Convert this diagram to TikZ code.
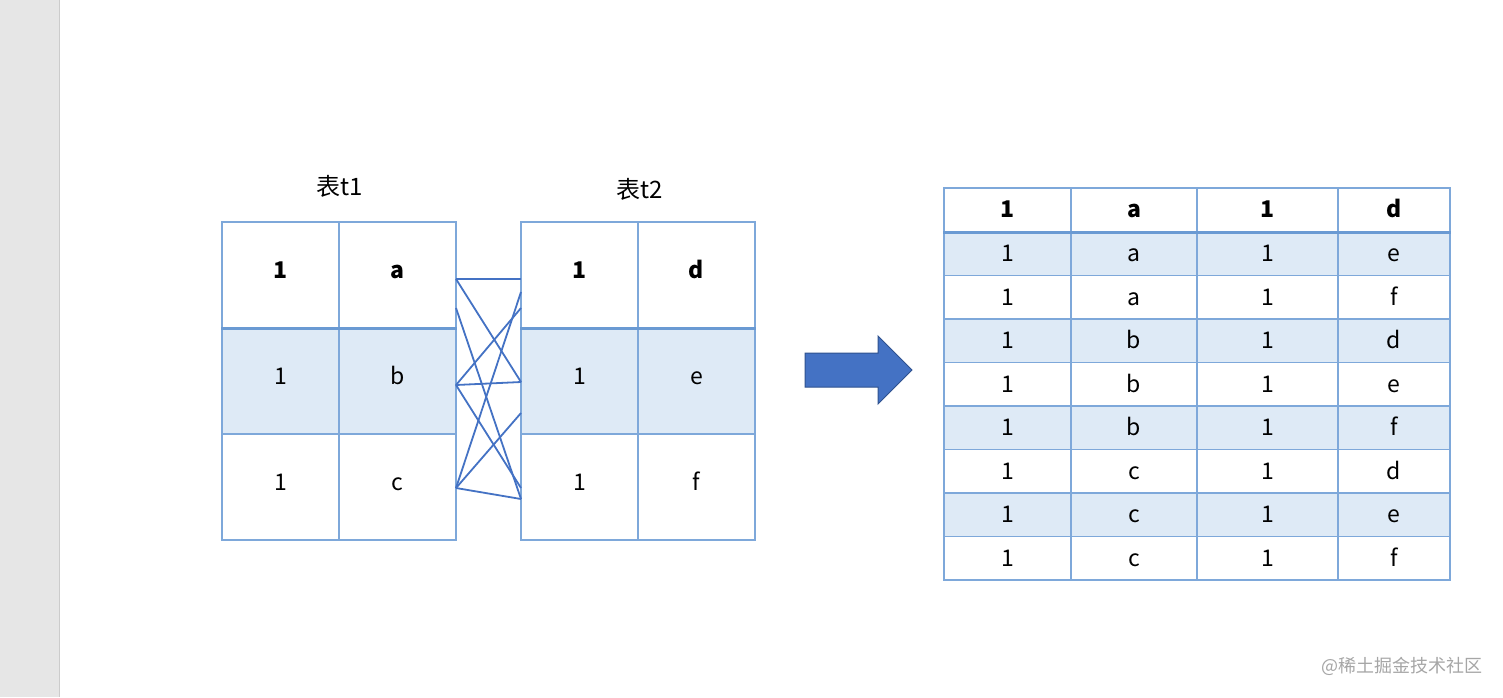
\documentclass[tikz,border=0pt]{standalone}
\usepackage{fontspec}
\setmainfont{Noto Sans CJK SC}
\definecolor{gridblue}{HTML}{7EA8DA}
\definecolor{hdrblue}{HTML}{6A9AD3}
\definecolor{rowfill}{HTML}{DEEAF6}
\definecolor{linkblue}{HTML}{4472C4}
\definecolor{arrowedge}{HTML}{2F528F}
\definecolor{sidegray}{HTML}{E6E6E6}
\definecolor{sideline}{HTML}{CCCCCC}
\definecolor{marktext}{HTML}{A6A6A6}
\begin{document}
\begin{tikzpicture}[x=1pt,y=-1pt,
  cell/.style={draw=gridblue, line width=1.3pt, inner sep=0pt, text height=0.73em, text depth=0pt, font=\fontsize{23}{23}\selectfont},
  bigcell/.style={draw=gridblue, line width=1.3pt, inner sep=0pt, text height=1.55em, text depth=0pt, font=\fontsize{23}{23}\selectfont},
  hdr/.style={font=\fontsize{23}{23}\selectfont\bfseries},
  shaded/.style={fill=rowfill},
  hdrline/.style={draw=hdrblue, line width=2.4pt},
  link/.style={draw=linkblue, line width=1.8pt},
  caption/.style={font=\fontsize{24}{24}\selectfont, inner sep=0pt}
]
\useasboundingbox (0,0) rectangle (1503,697);
\fill[white] (0,0) rectangle (1503,697);
\fill[sidegray] (0,0) rectangle (59,697);
\draw[sideline, line width=1.2pt] (59.5,0) -- (59.5,697);

% ---------- table t1 ----------
\node[caption] (cap1) at (340,186) {表t1};
\node[cell, minimum width=117, minimum height=106, hdr] (t1r0c0) at (280.5,275) {1};
\node[cell, minimum width=117, minimum height=106, hdr] (t1r0c1) at (397.5,275) {a};
\node[cell, shaded, minimum width=117, minimum height=106] (t1r1c0) at (280.5,381) {1};
\node[cell, shaded, minimum width=117, minimum height=106] (t1r1c1) at (397.5,381) {b};
\node[cell, minimum width=117, minimum height=106] (t1r2c0) at (280.5,487) {1};
\node[cell, minimum width=117, minimum height=106] (t1r2c1) at (397.5,487) {c};
\draw[hdrline] (t1r0c0.south west) -- (t1r0c1.south east);

% ---------- table t2 ----------
\node[caption] (cap2) at (640,189) {表t2};
\node[cell, minimum width=117, minimum height=106, hdr] (t2r0c0) at (579.5,275) {1};
\node[cell, minimum width=117, minimum height=106, hdr] (t2r0c1) at (696.5,275) {d};
\node[cell, shaded, minimum width=117, minimum height=106] (t2r1c0) at (579.5,381) {1};
\node[cell, shaded, minimum width=117, minimum height=106] (t2r1c1) at (696.5,381) {e};
\node[cell, minimum width=117, minimum height=106] (t2r2c0) at (579.5,487) {1};
\node[cell, minimum width=117, minimum height=106] (t2r2c1) at (696.5,487) {f};
\draw[hdrline] (t2r0c0.south west) -- (t2r0c1.south east);

% ---------- connectors ----------
\coordinate (la) at (456,279);
\coordinate (la2) at (456,308);
\coordinate (lb) at (456,385);
\coordinate (lc) at (456,488);
\coordinate (rd) at (521,279);
\coordinate (rd2) at (521,292);
\coordinate (rd3) at (521,308);
\coordinate (re) at (521,382);
\coordinate (re2) at (521,413);
\coordinate (rf) at (521,488);
\coordinate (rf2) at (521,499);
\draw[link, line width=2.6pt] (la) -- (rd);
\draw[link] (la) -- (re);
\draw[link] (la2) -- (rf2);
\draw[link] (lb) -- (rd3);
\draw[link] (lb) -- (re);
\draw[link] (lb) -- (rf);
\draw[link] (lc) -- (rd2);
\draw[link] (lc) -- (re2);
\draw[link] (lc) -- (rf2);

% ---------- arrow ----------
\coordinate (a1) at (805,353);
\coordinate (a2) at (878,353);
\coordinate (a3) at (878,336);
\coordinate (a4) at (912,370);
\coordinate (a5) at (878,404);
\coordinate (a6) at (878,387);
\coordinate (a7) at (805,387);
\draw[fill=linkblue, draw=arrowedge, line width=1pt, line join=miter]
  (a1) -- (a2) -- (a3) -- (a4) -- (a5) -- (a6) -- (a7) -- cycle;

% ---------- result table ----------
\foreach \r/\y/\sh/\ca/\cb/\cc/\cd in {
  1/253.75/1/1/a/1/e,
  2/297.25/0/1/a/1/f,
  3/340.75/1/1/b/1/d,
  4/384.25/0/1/b/1/e,
  5/427.75/1/1/b/1/f,
  6/471.25/0/1/c/1/d,
  7/514.75/1/1/c/1/e,
  8/558.25/0/1/c/1/f} {
  \ifnum\sh=1 \def\fc{rowfill}\else\def\fc{white}\fi
  \node[bigcell, fill=\fc, minimum width=127, minimum height=43.5] (rr\r c0) at (1007.5,\y) {\ca};
  \node[bigcell, fill=\fc, minimum width=126, minimum height=43.5] (rr\r c1) at (1134,\y) {\cb};
  \node[bigcell, fill=\fc, minimum width=141, minimum height=43.5] (rr\r c2) at (1267.5,\y) {\cc};
  \node[bigcell, fill=\fc, minimum width=112, minimum height=43.5] (rr\r c3) at (1394,\y) {\cd};
}
\node[bigcell, hdr, minimum width=127, minimum height=44] (rh0) at (1007.5,210) {1};
\node[bigcell, hdr, minimum width=126, minimum height=44] (rh1) at (1134,210) {a};
\node[bigcell, hdr, minimum width=141, minimum height=44] (rh2) at (1267.5,210) {1};
\node[bigcell, hdr, minimum width=112, minimum height=44] (rh3) at (1394,210) {d};
\draw[hdrline] (rh0.south west) -- (rh3.south east);

% ---------- watermark ----------
\node[font=\fontsize{18}{18}\selectfont, text=marktext, inner sep=0pt, anchor=east] (mark) at (1483,666) {@稀土掘金技术社区};
\end{tikzpicture}
\end{document}
